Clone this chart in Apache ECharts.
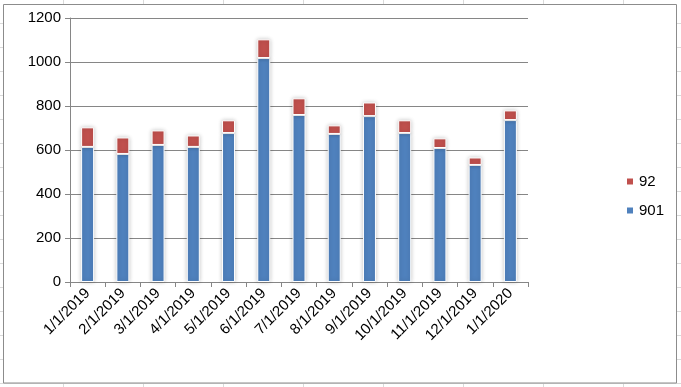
<!DOCTYPE html>
<html><head><meta charset="utf-8">
<script src="https://cdn.jsdelivr.net/npm/echarts@6/dist/echarts.min.js"></script>
<style>
html,body{margin:0;padding:0;}
body{width:681px;height:387px;overflow:hidden;
background-color:#fff;
background-image:linear-gradient(to right,#dadada 1px,transparent 1px),linear-gradient(to bottom,#dadada 1px,transparent 1px);
background-size:80px 24px;background-position:63px 23px;}
#c{width:681px;height:387px;}
</style></head><body>
<div id="c"></div>
<script>
const categories = ['1/1/2019','2/1/2019','3/1/2019','4/1/2019','5/1/2019','6/1/2019','7/1/2019','8/1/2019','9/1/2019','10/1/2019','11/1/2019','12/1/2019','1/1/2020'];
const s901 = [614, 582, 623, 614, 677, 1018, 759, 673, 754, 677, 609, 532, 736];
const s92  = [89, 75, 66, 52, 58, 85, 76, 39, 62, 58, 44, 34, 44];
const yTicks = {min:0, max:1200, interval:200};

const chart = echarts.init(document.getElementById('c'));
const font = 'Liberation Sans, Arial, sans-serif';
const itemStyleBase = {borderColor:'#fff', borderWidth:1, shadowBlur:4, shadowColor:'rgba(0,0,0,0.22)', shadowOffsetX:0, shadowOffsetY:0};
chart.setOption({
  animation:false,
  graphic:[{type:'rect', z:-10, shape:{x:3.5,y:4.5,width:673,height:378.5}, style:{fill:'#fff', stroke:'#8c8c8c', lineWidth:1}}],
  grid:{left:70, right:153, top:18, bottom:105, containLabel:false},
  legend:{
    orient:'vertical', left:620, top:169, itemWidth:8, itemHeight:8, itemGap:14,
    icon:'rect', data:['92','901'],
    textStyle:{fontFamily:font, fontSize:15, color:'#000'}
  },
  xAxis:{
    type:'category', data:categories,
    axisLine:{lineStyle:{color:'#868686'}},
    axisTick:{show:true, alignWithLabel:false, length:5, lineStyle:{color:'#868686'}},
    axisLabel:{rotate:45, interval:0, margin:9, fontFamily:font, fontSize:15, color:'#000'}
  },
  yAxis:{
    type:'value', min:yTicks.min, max:yTicks.max, interval:yTicks.interval,
    axisLine:{show:true, lineStyle:{color:'#868686'}},
    axisTick:{show:true, length:5, lineStyle:{color:'#868686'}},
    splitLine:{lineStyle:{color:'#868686'}},
    axisLabel:{fontFamily:font, fontSize:15, color:'#000', margin:9, formatter:function(v){return String(v);}}
  },
  series:[
    {name:'901', type:'bar', stack:'a', data:s901, barWidth:13, itemStyle:Object.assign({color:'#4F81BD'}, itemStyleBase)},
    {name:'92', type:'bar', stack:'a', data:s92, barWidth:13, itemStyle:Object.assign({color:'#C0504D'}, itemStyleBase)}
  ]
});
</script>
</body></html>
